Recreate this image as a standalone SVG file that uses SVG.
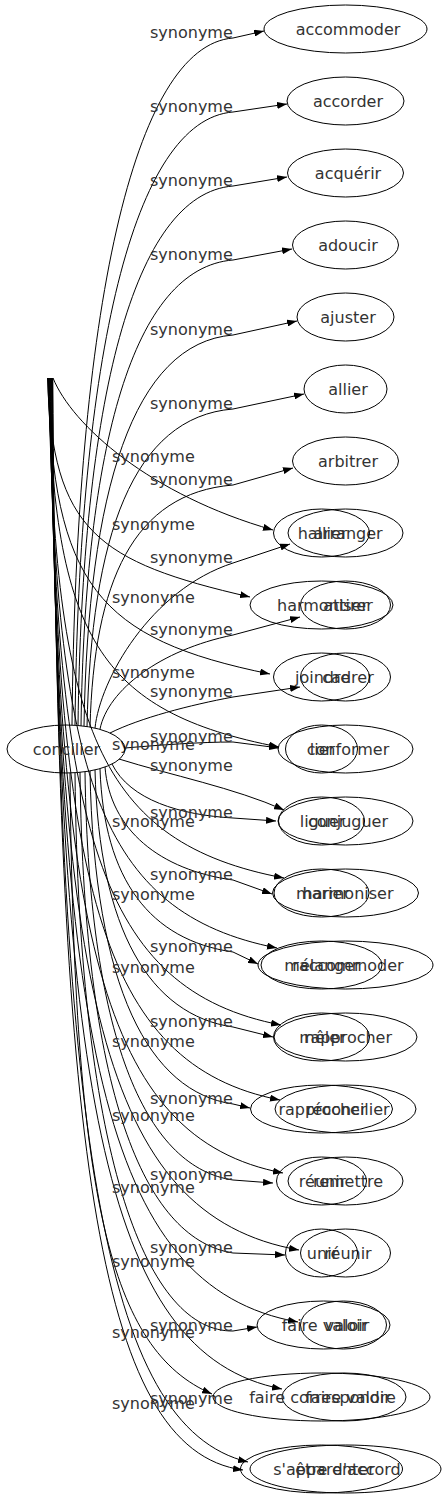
<svg xmlns="http://www.w3.org/2000/svg" width="447" height="1499" viewBox="0 0 447 1499">
<defs>
<marker id="ah" markerWidth="10" markerHeight="7" refX="10" refY="3.5" orient="auto" markerUnits="userSpaceOnUse"><path d="M0,0L10,3.5L0,7z" fill="#000"/></marker>
<style>
text{font-family:"DejaVu Sans",Verdana,sans-serif;font-size:16px;fill:#333}
.n ellipse{fill:none;stroke:#000;stroke-width:1}
.n text{text-anchor:middle}
#edges path{fill:none;stroke:#000;stroke-width:1;marker-end:url(#ah)}
</style>
</defs>
<rect width="447" height="1499" fill="#fff"/>
<g id="edges">
<path d="M72,725 C76,313 133,46 233,38 L264,31"/>
<path d="M75,725 C79,357 133,120 233,112 L287,104"/>
<path d="M78,725.5 C82,402 133,194 233,186 L287,177"/>
<path d="M81,726 C85,446 133,268 233,260 L292,249"/>
<path d="M84,726 C88,491 133,343 233,335 L297,321"/>
<path d="M87,727 C91,536 133,417 233,409 L304,394"/>
<path d="M90,727 C94,582 133,493 233,485 L293,468"/>
<path d="M95,728 C100,680 150,590 233,563 L290,544"/>
<path d="M100,729 C108,690 160,650 233,635 L300,617"/>
<path d="M110,733 C140,718 190,705 233,697 L300,687"/>
<path d="M125,748 C160,745 200,742 233,742 L279,748"/>
<path d="M119,759 C170,775 235,788 284,810"/>
<path d="M112,764 C130,800 180,815 233,818 L276,821"/>
<path d="M105,767 C110,830 160,870 233,880 L272,894"/>
<path d="M100,769 C104,880 150,940 233,952 L258,964"/>
<path d="M95,770 C99,930 150,1015 233,1027 L273,1037"/>
<path d="M90,771 C94,990 150,1092 233,1104 L250,1108"/>
<path d="M85,772 C89,1050 150,1168 233,1180 L273,1183"/>
<path d="M80,772 C84,1110 150,1240 233,1253 L285,1255"/>
<path d="M75,773 C79,1170 150,1332 233,1331 L257,1327"/>
<path d="M70,773 C74,1200 110,1350 212,1394"/>
<path d="M53,378 C72,425 150,495 273,530"/>
<path d="M47.5,378 C52.5,531 97.5,562 250,597"/>
<path d="M47.9,378 C52.9,585 97.9,639 270,674"/>
<path d="M48.4,378 C53.4,636 98.4,712 279,747"/>
<path d="M48.8,378 C53.8,728 98.8,843 284,878"/>
<path d="M49.3,378 C54.3,777 99.3,913 277,948"/>
<path d="M49.7,378 C54.7,831 99.7,990 281,1025"/>
<path d="M50.2,378 C55.2,883 100.2,1065 280,1100"/>
<path d="M50.6,378 C55.6,934 100.6,1138 283,1173"/>
<path d="M51,378 C56,988 101,1215 299,1250"/>
<path d="M51.5,378 C56.5,1039 101.5,1287 298,1322"/>
<path d="M52,378 C57,1086 102,1354 282,1389"/>
<path d="M52.4,378 C57.4,1137 102.4,1427 248,1462"/>
<path d="M52.8,378 C57.8,1142 95,1450 243,1470"/>
<g id="labels">
<text x="150" y="37.5">synonyme</text>
<text x="150" y="111.5">synonyme</text>
<text x="150" y="185.5">synonyme</text>
<text x="150" y="259.5">synonyme</text>
<text x="150" y="334.5">synonyme</text>
<text x="150" y="408.5">synonyme</text>
<text x="150" y="484.5">synonyme</text>
<text x="150" y="562.5">synonyme</text>
<text x="150" y="634.5">synonyme</text>
<text x="150" y="696.5">synonyme</text>
<text x="150" y="741.5">synonyme</text>
<text x="150" y="770.5">synonyme</text>
<text x="150" y="817.5">synonyme</text>
<text x="150" y="879.5">synonyme</text>
<text x="150" y="951.5">synonyme</text>
<text x="150" y="1026.5">synonyme</text>
<text x="150" y="1103.5">synonyme</text>
<text x="150" y="1179.5">synonyme</text>
<text x="150" y="1252.5">synonyme</text>
<text x="150" y="1330.5">synonyme</text>
<text x="150" y="1403.5">synonyme</text>
<text x="112" y="461.5">synonyme</text>
<text x="112" y="529.5">synonyme</text>
<text x="112" y="602.5">synonyme</text>
<text x="112" y="677.5">synonyme</text>
<text x="112" y="749.5">synonyme</text>
<text x="112" y="826.5">synonyme</text>
<text x="112" y="899.5">synonyme</text>
<text x="112" y="972.5">synonyme</text>
<text x="112" y="1046.5">synonyme</text>
<text x="112" y="1120.5">synonyme</text>
<text x="112" y="1192.5">synonyme</text>
<text x="112" y="1266.5">synonyme</text>
<text x="112" y="1337.5">synonyme</text>
<text x="112" y="1408.5">synonyme</text>
</g>
</g>
<g id="concilier" class="n"><ellipse cx="66" cy="749" rx="59" ry="24"/><text x="66.5" y="754.5">concilier</text></g>
<g id="accommoder" class="n"><ellipse cx="345.5" cy="29" rx="81.5" ry="24"/><text x="348" y="34.5">accommoder</text></g>
<g id="accorder" class="n"><ellipse cx="345.5" cy="101" rx="58.5" ry="24"/><text x="348" y="106.5">accorder</text></g>
<g id="acquerir" class="n"><ellipse cx="345.5" cy="173" rx="58" ry="24"/><text x="348" y="178.5">acquérir</text></g>
<g id="adoucir" class="n"><ellipse cx="345.5" cy="245" rx="53" ry="24"/><text x="348" y="250.5">adoucir</text></g>
<g id="ajuster" class="n"><ellipse cx="345.5" cy="317" rx="48.5" ry="24"/><text x="348" y="322.5">ajuster</text></g>
<g id="allier" class="n"><ellipse cx="345.5" cy="389" rx="41.5" ry="24"/><text x="348" y="394.5">allier</text></g>
<g id="arbitrer" class="n"><ellipse cx="345.5" cy="461" rx="53" ry="24"/><text x="348" y="466.5">arbitrer</text></g>
<g id="arranger" class="n"><ellipse cx="345.5" cy="533" rx="57.5" ry="24"/><text x="348" y="538.5">arranger</text></g>
<g id="attirer" class="n"><ellipse cx="345.5" cy="605" rx="45" ry="24"/><text x="348" y="610.5">attirer</text></g>
<g id="cadrer" class="n"><ellipse cx="345.5" cy="677" rx="45" ry="24"/><text x="348" y="682.5">cadrer</text></g>
<g id="conformer" class="n"><ellipse cx="345.5" cy="749" rx="67.5" ry="24"/><text x="348" y="754.5">conformer</text></g>
<g id="conjuguer" class="n"><ellipse cx="345.5" cy="821" rx="67.5" ry="24"/><text x="348" y="826.5">conjuguer</text></g>
<g id="harmoniser-a" class="n"><ellipse cx="345.5" cy="893" rx="73" ry="24"/><text x="348" y="898.5">harmoniser</text></g>
<g id="raccommoder" class="n"><ellipse cx="345.5" cy="965" rx="87.5" ry="24"/><text x="348" y="970.5">raccommoder</text></g>
<g id="rapprocher-a" class="n"><ellipse cx="345.5" cy="1037" rx="71.5" ry="24"/><text x="348" y="1042.5">rapprocher</text></g>
<g id="reconcilier" class="n"><ellipse cx="345.5" cy="1109" rx="70.5" ry="24"/><text x="348" y="1114.5">réconcilier</text></g>
<g id="remettre" class="n"><ellipse cx="345.5" cy="1181" rx="57.5" ry="24"/><text x="348" y="1186.5">remettre</text></g>
<g id="reunir-a" class="n"><ellipse cx="345.5" cy="1253" rx="45" ry="24"/><text x="348" y="1258.5">réunir</text></g>
<g id="valoir" class="n"><ellipse cx="343.5" cy="1325" rx="43" ry="24"/><text x="347" y="1330.5">valoir</text></g>
<g id="faire-valoir-a" class="n"><ellipse cx="344" cy="1397" rx="62" ry="24"/><text x="348" y="1402.5">faire valoir</text></g>
<g id="etre-d-accord" class="n"><ellipse cx="345.5" cy="1469" rx="95.5" ry="24"/><text x="348" y="1474.5">être d'accord</text></g>
<g id="b-first" class="n"><ellipse cx="321.5" cy="533" rx="48" ry="24"/><text x="322.5" y="538.5">hallier</text></g>
<g id="harmoniser-b" class="n"><ellipse cx="321.5" cy="605" rx="71.5" ry="24"/><text x="322.5" y="610.5">harmoniser</text></g>
<g id="joindre" class="n"><ellipse cx="321.5" cy="677" rx="48" ry="24"/><text x="322.5" y="682.5">joindre</text></g>
<g id="lier" class="n"><ellipse cx="321.5" cy="749" rx="36" ry="24"/><text x="322.5" y="754.5">lier</text></g>
<g id="liguer" class="n"><ellipse cx="321.5" cy="821" rx="43" ry="24"/><text x="322.5" y="826.5">liguer</text></g>
<g id="marier" class="n"><ellipse cx="321.5" cy="893" rx="47.5" ry="24"/><text x="322.5" y="898.5">marier</text></g>
<g id="melanger" class="n"><ellipse cx="321.5" cy="965" rx="60.5" ry="24"/><text x="322.5" y="970.5">mélanger</text></g>
<g id="meler" class="n"><ellipse cx="321.5" cy="1037" rx="48" ry="24"/><text x="322.5" y="1042.5">mêler</text></g>
<g id="rapprocher-b" class="n"><ellipse cx="321.5" cy="1109" rx="71" ry="24"/><text x="322.5" y="1114.5">rapprocher</text></g>
<g id="reunir-b" class="n"><ellipse cx="321.5" cy="1181" rx="45" ry="24"/><text x="322.5" y="1186.5">réunir</text></g>
<g id="unir" class="n"><ellipse cx="321.5" cy="1253" rx="36" ry="24"/><text x="322.5" y="1258.5">unir</text></g>
<g id="faire-valoir-b" class="n"><ellipse cx="323.5" cy="1325" rx="66.5" ry="24"/><text x="324.5" y="1330.5">faire valoir</text></g>
<g id="faire-correspondre" class="n"><ellipse cx="321.5" cy="1397" rx="108.5" ry="24"/><text x="322.5" y="1402.5">faire correspondre</text></g>
<g id="s-apparenter" class="n"><ellipse cx="321.5" cy="1469" rx="81" ry="24"/><text x="324" y="1474.5">s'apparenter</text></g>
</svg>
